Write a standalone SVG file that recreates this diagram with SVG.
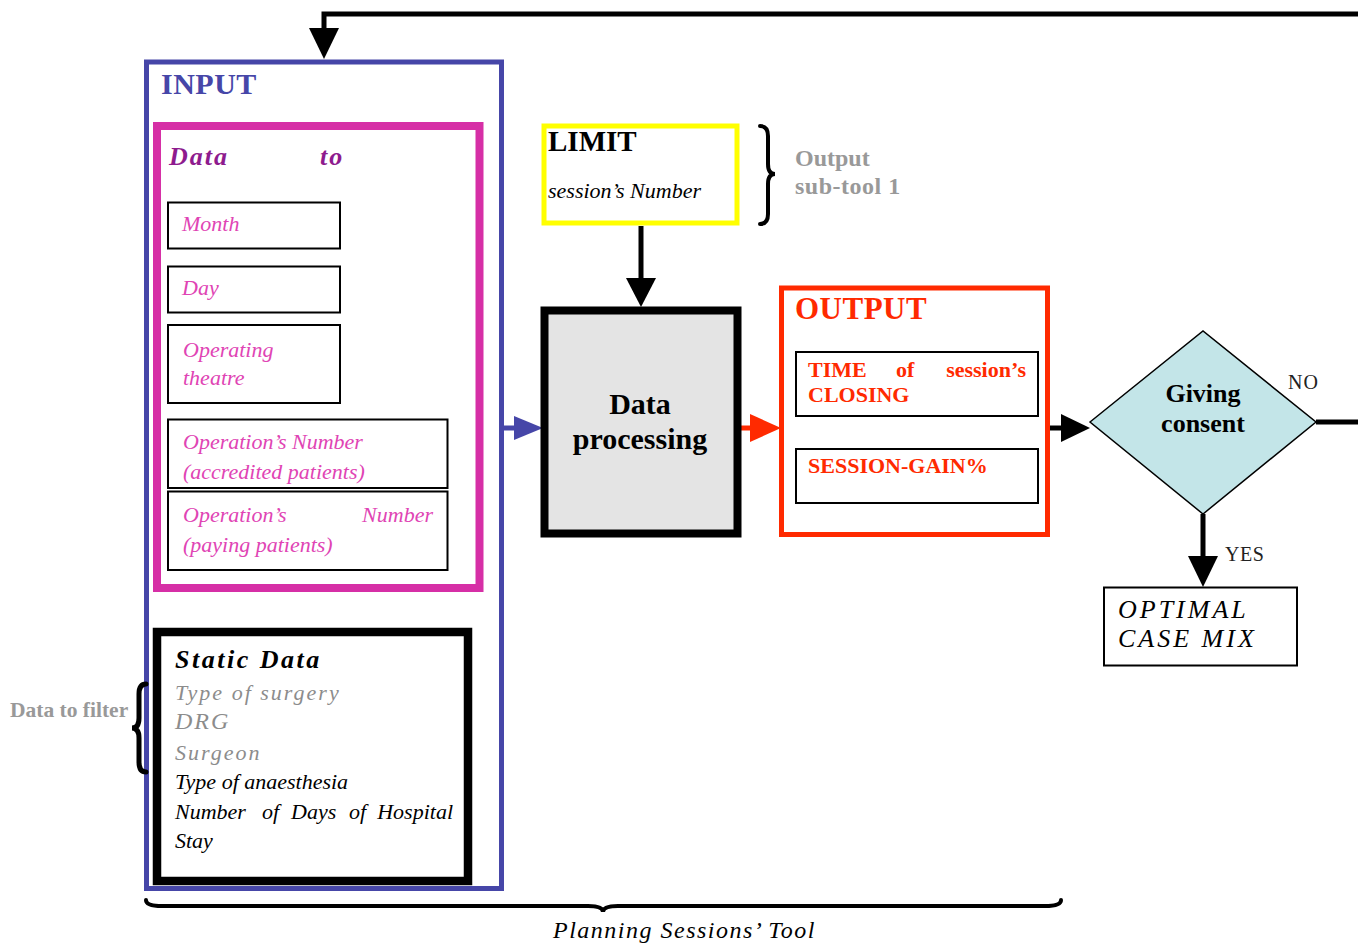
<svg xmlns="http://www.w3.org/2000/svg" width="1358" height="945" viewBox="0 0 1358 945">
<style>
text{font-family:"Liberation Serif","DejaVu Serif",serif}
.b{font-weight:bold}
.i{font-style:italic}
.pk{fill:#E044B4;font-style:italic;font-size:22px}
.gray{fill:#999999}
.box{fill:#ffffff;stroke:#000;stroke-width:2}
.brace{fill:none;stroke:#000;stroke-linecap:round}
</style>

<g id="connectors">
  <path d="M1358,14 L324,14 L324,30" fill="none" stroke="#000" stroke-width="5"/>
  <polygon points="309,28 339,28 324,59" fill="#000"/>
  <line x1="641" y1="226" x2="641" y2="280" stroke="#000" stroke-width="5"/>
  <polygon points="626,278 656,278 641,307" fill="#000"/>
  <line x1="504" y1="428" x2="518" y2="428" stroke="#4646A8" stroke-width="5"/>
  <polygon points="514,416 543,428 514,440" fill="#4646A8"/>
  <line x1="741" y1="428" x2="754" y2="428" stroke="#FF2A00" stroke-width="5"/>
  <polygon points="750,414 781,428 750,442" fill="#FF2A00"/>
  <line x1="1049" y1="428" x2="1064" y2="428" stroke="#000" stroke-width="5"/>
  <polygon points="1061,414 1090,428 1061,442" fill="#000"/>
  <line x1="1316" y1="422" x2="1358" y2="422" stroke="#000" stroke-width="5"/>
  <line x1="1203" y1="514" x2="1203" y2="560" stroke="#000" stroke-width="5"/>
  <polygon points="1188,556 1218,556 1203,587" fill="#000"/>
  <text x="1288" y="389" font-size="20" fill="#222" letter-spacing="1">NO</text>
  <text x="1225" y="561" font-size="20" fill="#222" letter-spacing="0.5">YES</text>
</g>

<g id="input">
  <rect x="146.5" y="62" width="355" height="826.5" fill="none" stroke="#4646A8" stroke-width="5"/>
  <text x="161" y="94" font-size="30" class="b" fill="#4646A8" letter-spacing="0.5">INPUT</text>
</g>

<g id="data-to">
  <rect x="157" y="126" width="322.5" height="462" fill="none" stroke="#D62FA6" stroke-width="8"/>
  <text y="165" font-size="26" class="b i" fill="#8E1B8E" letter-spacing="2"><tspan x="169">Data</tspan><tspan x="320">to</tspan></text>
</g>

<g id="month">
  <rect class="box" x="168" y="202.5" width="172" height="46"/>
  <text x="182" y="231" class="pk">Month</text>
</g>
<g id="day">
  <rect class="box" x="168" y="266.5" width="172" height="46"/>
  <text x="182" y="295" class="pk">Day</text>
</g>
<g id="theatre">
  <rect class="box" x="168" y="325" width="172" height="78"/>
  <text x="183" y="357" class="pk">Operating</text>
  <text x="183" y="385" class="pk">theatre</text>
</g>
<g id="accredited">
  <rect class="box" x="168" y="419.5" width="279.5" height="68.5"/>
  <text x="183" y="449" class="pk">Operation’s Number</text>
  <text x="183" y="479" class="pk" font-size="21">(accredited patients)</text>
</g>
<g id="paying">
  <rect class="box" x="168" y="491.5" width="279.5" height="78.5"/>
  <text x="183" y="522" class="pk">Operation’s</text>
  <text x="433" y="522" class="pk" text-anchor="end">Number</text>
  <text x="183" y="552" class="pk">(paying patients)</text>
</g>

<g id="static-data">
  <rect x="157" y="632" width="311" height="249" fill="#fff" stroke="#000" stroke-width="8.5"/>
  <text x="175" y="668" font-size="26" class="b i" fill="#000" letter-spacing="2.5">Static Data</text>
  <text x="175" y="700" font-size="22" class="i" fill="#8C8C8C" letter-spacing="2">Type of surgery</text>
  <text x="175" y="729" font-size="24" class="i" fill="#8C8C8C" letter-spacing="2">DRG</text>
  <text x="175" y="760" font-size="22" class="i" fill="#8C8C8C" letter-spacing="2">Surgeon</text>
  <text x="175" y="789" font-size="22" class="i" fill="#000">Type of anaesthesia</text>
  <text y="819" font-size="22" class="i" fill="#000"><tspan x="175">Number</tspan><tspan x="262">of</tspan><tspan x="291">Days</tspan><tspan x="349">of</tspan></text>
  <text x="453" y="819" font-size="22" class="i" fill="#000" text-anchor="end">Hospital</text>
  <text x="175" y="848" font-size="22" class="i" fill="#000">Stay</text>
</g>

<g id="filter-label">
  <path class="brace" stroke-width="5" d="M146,684 Q139,684 139,694 L139,718 Q139,728 132,728 Q139,728 139,738 L139,762 Q139,772 146,772"/>
  <text x="10" y="717" font-size="21.5" class="b gray">Data to filter</text>
</g>

<g id="limit">
  <rect x="544" y="126" width="193" height="97" fill="none" stroke="#FFFF00" stroke-width="5"/>
  <text x="548" y="151" font-size="29" class="b" fill="#000">LIMIT</text>
  <text x="548" y="198" font-size="22" class="i" fill="#000">session’s Number</text>
</g>

<g id="subtool-label">
  <path class="brace" stroke-width="4" d="M760,126 Q768,126 768,136 L768,164 Q768,174 775,174 Q768,174 768,184 L768,214 Q768,224 760,224"/>
  <text x="795" y="166" font-size="24" class="b gray">Output</text>
  <text x="795" y="194" font-size="24" class="b gray" letter-spacing="0.5">sub-tool 1</text>
</g>

<g id="processing">
  <rect x="544.5" y="310.5" width="193" height="223" fill="#E4E4E4" stroke="#000" stroke-width="8"/>
  <text x="640" y="414" font-size="30" class="b" fill="#000" text-anchor="middle">Data</text>
  <text x="640" y="449" font-size="30" class="b" fill="#000" text-anchor="middle">processing</text>
</g>

<g id="output">
  <rect x="781.5" y="288" width="266" height="246.5" fill="none" stroke="#FF2A00" stroke-width="5"/>
  <text x="795" y="319" font-size="31" class="b" fill="#FF2A00" letter-spacing="0.5">OUTPUT</text>
</g>
<g id="closing-time">
  <rect class="box" x="796" y="352" width="242" height="64"/>
  <text y="377" font-size="22" class="b" fill="#FF2A00"><tspan x="808">TIME</tspan><tspan x="896">of</tspan></text>
  <text x="1026" y="377" font-size="22" class="b" fill="#FF2A00" text-anchor="end">session’s</text>
  <text x="808" y="402" font-size="22" class="b" fill="#FF2A00">CLOSING</text>
</g>
<g id="session-gain">
  <rect class="box" x="796" y="449" width="242" height="54"/>
  <text x="808" y="473" font-size="22" class="b" fill="#FF2A00">SESSION-GAIN%</text>
</g>

<g id="consent">
  <polygon points="1090,422 1203,331 1316,422 1203,514" fill="#C3E5E8" stroke="#000" stroke-width="1.5"/>
  <text x="1203" y="402" font-size="26" class="b" fill="#000" text-anchor="middle">Giving</text>
  <text x="1203" y="432" font-size="26" class="b" fill="#000" text-anchor="middle">consent</text>
</g>

<g id="case-mix">
  <rect class="box" x="1104" y="587.5" width="193" height="78"/>
  <text x="1118" y="618" font-size="26" class="i" fill="#000" letter-spacing="3">OPTIMAL</text>
  <text x="1118" y="647" font-size="26" class="i" fill="#000" letter-spacing="3">CASE MIX</text>
</g>

<g id="tool-label">
  <path class="brace" stroke-width="4" d="M146,900 Q146,906 162,906 L588,906 Q603,906 603,912 Q603,906 618,906 L1045,906 Q1061,906 1061,900"/>
  <text x="553" y="938" font-size="24" class="i" fill="#000" letter-spacing="1.5">Planning Sessions’ Tool</text>
</g>
</svg>
